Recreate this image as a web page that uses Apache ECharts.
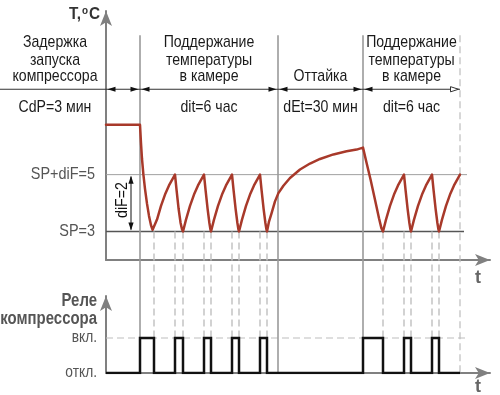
<!DOCTYPE html>
<html><head><meta charset="utf-8">
<script src="https://cdn.jsdelivr.net/npm/echarts@6/dist/echarts.min.js"></script>
<style>html,body{margin:0;padding:0;background:#fff}#c{width:500px;height:395px}</style>
</head><body><div id="c"></div>
<script>
// ---------------- data ----------------
const phaseBounds = [0, 17, 86, 128.5, 177];
const phaseTitles = [
  ['Задержка', 'запуска', 'компрессора'],
  ['Поддержание', 'температуры', 'в камере'],
  ['Оттайка'],
  ['Поддержание', 'температуры', 'в камере']
];
const phaseParams = ['CdP=3 мин', 'dit=6 час', 'dEt=30 мин', 'dit=6 час'];
const spValue = 3;
const spDifValue = 5;
const difLabel = 'diF=2';
const tempTickValues = [3, 5];
const tempTickLabels = ['SP=3', 'SP+diF=5'];
const relayTickValues = [0, 1];
const relayTickLabels = ['откл.', 'вкл.'];
const tempCurve = [
  [0, 6.75], [17, 6.75],
  [17.5, 6.1], [18, 5.55], [18.7, 5.0], [19.5, 4.5], [20.5, 3.98], [21.5, 3.55], [22.5, 3.22], [23.3, 3.06], [24, 3.0],
  [25.5, 3.42], [27.5, 3.9], [29.5, 4.3], [31.5, 4.62], [34.5, 5.0],
  [35.3, 4.45], [36.3, 3.8], [37.3, 3.3], [38, 3.08], [38.5, 3.0],
  [40, 3.42], [42, 3.9], [44, 4.3], [46, 4.62], [49, 5.0],
  [49.8, 4.45], [50.8, 3.8], [51.7, 3.3], [52.2, 3.08], [52.5, 3.0],
  [54, 3.42], [56, 3.9], [58, 4.3], [60, 4.62], [63, 5.0],
  [63.8, 4.45], [64.8, 3.8], [65.7, 3.3], [66.2, 3.08], [66.5, 3.0],
  [68, 3.42], [70, 3.9], [72, 4.3], [74, 4.62], [77, 5.0],
  [77.8, 4.45], [78.8, 3.8], [79.7, 3.3], [80.2, 3.08], [80.5, 3.0],
  [81.5, 3.35], [82.8, 3.65], [84.5, 4.06], [86.2, 4.35], [88.7, 4.61], [92, 4.88], [97, 5.18], [102, 5.39],
  [107, 5.55], [113.7, 5.71], [120.3, 5.82], [125.3, 5.88], [128.5, 5.95],
  [130.3, 5.41], [132.3, 4.82], [134.5, 4.12], [136.5, 3.47], [137.7, 3.12], [138.5, 3.0],
  [140, 3.42], [142, 3.9], [144, 4.3], [146, 4.62], [149, 5.0],
  [149.8, 4.45], [150.8, 3.8], [151.7, 3.3], [152.2, 3.08], [152.5, 3.0],
  [154, 3.42], [156, 3.9], [158, 4.3], [160, 4.62], [163, 5.0],
  [163.8, 4.45], [164.8, 3.8], [165.7, 3.3], [166.2, 3.08], [166.5, 3.0],
  [168, 3.42], [170, 3.9], [172, 4.3], [174, 4.62], [177, 5.0]
];
const relayOn = [17, 34.5, 49, 63, 77, 128.5, 149, 163];
const relayOff = [24, 38.5, 52.5, 66.5, 80.5, 138.5, 152.5, 166.5];
const relayEnd = 177;
const headerLevel = 8;     // temperature-axis level of the phase header line
const headerTop = 9.9;     // top of the phase separator lines
const refLineEnd = 180.5;
const spLineEnd = 179;

// ---------------- chart ----------------
const FONT = '"Liberation Sans", Arial, sans-serif';
const SX = 0.83; // condensed look of the original lettering
const relayPoints = [[0, 0]];
relayOn.forEach((on, i) => {
  relayPoints.push([on, 0], [on, 1], [relayOff[i], 1], [relayOff[i], 0]);
});
relayPoints.push([relayEnd, 0]);

const chart = echarts.init(document.getElementById('c'), null, { renderer: 'canvas' });
const axisGray = '#808080';
function xAx(gi) {
  return {
    gridIndex: gi, type: 'value', min: 0, max: 192,
    axisLine: { onZero: false, lineStyle: { color: axisGray, width: 2 }, symbol: ['none', 'arrow'], symbolSize: [9, 15] },
    axisTick: { show: false }, axisLabel: { show: false }, splitLine: { show: false }
  };
}
function yAx(gi, min, max) {
  return {
    gridIndex: gi, type: 'value', min: min, max: max, interval: 1,
    axisLine: { show: true, onZero: false, lineStyle: { color: axisGray, width: 2 }, symbol: ['none', 'arrow'], symbolSize: [9, 15] },
    axisTick: { show: false }, splitLine: { show: false }, axisLabel: { show: false }
  };
}
chart.setOption({
  animation: false,
  grid: [
    { left: 106, right: 10, top: 11, bottom: 135 },
    { left: 106, right: 10, top: 296, bottom: 22 }
  ],
  xAxis: [xAx(0), xAx(1)],
  yAxis: [yAx(0, 2, 10.75), yAx(1, 0, 2.2)],
  series: [
    {
      type: 'line', xAxisIndex: 0, yAxisIndex: 0, data: tempCurve, showSymbol: false, z: 10,
      lineStyle: { color: '#a8392a', width: 2.5, join: 'round', cap: 'round' }
    },
    {
      type: 'line', xAxisIndex: 1, yAxisIndex: 1, data: relayPoints, showSymbol: false, z: 10,
      lineStyle: { color: '#111', width: 2.5, join: 'miter' }
    }
  ]
});

function buildGraphic() {
  const P = (t, T) => chart.convertToPixel({ gridIndex: 0 }, [t, T]);
  const R = (t, v) => chart.convertToPixel({ gridIndex: 1 }, [t, v]);
  const els = [];
  const line = (x1, y1, x2, y2, stroke, lw, dash, z) => els.push({
    type: 'line', silent: true, z: z || 1,
    shape: { x1, y1, x2, y2 }, style: { stroke, lineWidth: lw, lineDash: dash || null }
  });
  const poly = (pts, fill, stroke) => els.push({
    type: 'polygon', silent: true, z: 3, shape: { points: pts },
    style: { fill: fill, stroke: stroke || null, lineWidth: 1 }
  });
  const text = (s, x, y, o) => els.push({
    type: 'text', silent: true, z: 20, x, y, rotation: o.rot || 0, scaleX: o.sx || SX,
    style: Object.assign({ text: s, x: 0, y: 0, align: o.align || 'center', verticalAlign: 'middle',
      font: o.font, fill: o.fill || '#222' }, o.rich ? { rich: o.rich } : {})
  });

  const x0 = P(0, 0)[0];
  const yBottom = R(0, 0)[1];
  const yTop = P(0, headerTop)[1];
  const yHead = P(0, headerLevel)[1];
  const ySP = P(0, spValue)[1];

  // reference lines
  line(x0, P(0, spDifValue)[1], P(refLineEnd, 0)[0], P(0, spDifValue)[1], '#a0a0a0', 1);
  line(x0, ySP, P(spLineEnd, 0)[0], ySP, '#555', 1.5);
  line(x0, R(0, 1)[1], R(refLineEnd, 1)[0], R(0, 1)[1], '#bdbdbd', 1.2, [7, 4]);

  // event (switching) dashed lines
  relayOn.concat(relayOff).forEach(t => {
    if (phaseBounds.indexOf(t) >= 0) return;
    const x = P(t, 0)[0];
    line(x, ySP, x, yBottom, '#c4c4c4', 1.5, [7, 4]);
  });
  // phase separator lines
  phaseBounds.forEach((t, i) => {
    if (i === 0) return;
    const x = P(t, 0)[0];
    if (i === phaseBounds.length - 1) line(x, yTop, x, yBottom, '#bdbdbd', 1.2, [7, 4]);
    else line(x, yTop, x, yBottom, '#9a9a9a', 1.6);
  });

  // header line with dimension arrows
  const xEnd = P(phaseBounds[phaseBounds.length - 1], 0)[0];
  line(0, yHead, xEnd, yHead, '#333', 1, null, 2);
  const AL = 8, AW = 2.6;
  for (let i = 0; i < phaseBounds.length - 1; i++) {
    const a = P(phaseBounds[i], 0)[0] + 1.5, b = P(phaseBounds[i + 1], 0)[0] - 1.5;
    poly([[a, yHead], [a + AL, yHead - AW], [a + AL, yHead + AW]], '#111');
    if (i < phaseBounds.length - 2) poly([[b, yHead], [b - AL, yHead - AW], [b - AL, yHead + AW]], '#111');
    else poly([[b, yHead], [b - AL, yHead - AW], [b - AL, yHead + AW]], '#fff', '#333');
  }

  // phase texts
  const HF = '17px ' + FONT;
  for (let i = 0; i < phaseTitles.length; i++) {
    const cx = i === 0 ? x0 / 2 + 2 : (P(phaseBounds[i], 0)[0] + P(phaseBounds[i + 1], 0)[0]) / 2;
    const lines = phaseTitles[i];
    const ys = [42.5, 60, 76.5];
    const off = 3 - lines.length;
    lines.forEach((s, k) => text(s, cx, ys[k + off], { font: HF, fill: '#1a1a1a' }));
    text(phaseParams[i], cx, 107.5, { font: HF, fill: '#1a1a1a' });
  }

  // tick labels
  tempTickValues.forEach((v, i) => text(tempTickLabels[i], x0 - 11, P(0, v)[1], { align: 'right', font: '17px ' + FONT, fill: '#555', sx: 0.85 }));
  relayTickValues.forEach((v, i) => text(relayTickLabels[i], x0 - 9, R(0, v)[1], { align: 'right', font: '16px ' + FONT, fill: '#555', sx: 0.86 }));

  // diF dimension arrow
  const xd = x0 + 25;
  const y5 = P(0, spDifValue)[1];
  line(xd, y5 + 2, xd, ySP - 2, '#111', 1, null, 2);
  poly([[xd, y5 + 1], [xd - 2.6, y5 + 9], [xd + 2.6, y5 + 9]], '#111');
  poly([[xd, ySP - 1], [xd - 2.6, ySP - 9], [xd + 2.6, ySP - 9]], '#111');
  text(difLabel, xd - 9, (y5 + ySP) / 2 - 3, { font: HF, fill: '#111', rot: Math.PI / 2 });

  // axis titles
  text('{a|Т,}{b|o}{a|C}', 100, 14, {
    align: 'right', font: 'bold 17px ' + FONT, fill: '#333', sx: 0.9,
    rich: { a: { font: 'bold 17px ' + FONT, fill: '#333' }, b: { font: 'bold 11px ' + FONT, fill: '#333', verticalAlign: 'top', padding: [0, 1, 6, 1] } }
  });
  text('Реле', 97, 301, { align: 'right', font: 'bold 18px ' + FONT, fill: '#555' });
  text('компрессора', 97, 319, { align: 'right', font: 'bold 18px ' + FONT, fill: '#555' });
  text('t', 478, 278, { font: 'bold 18px ' + FONT, fill: '#666', sx: 1 });
  text('t', 478, 387, { font: 'bold 18px ' + FONT, fill: '#666', sx: 1 });

  chart.setOption({ graphic: { elements: els } });
}
buildGraphic();
</script>
</body></html>
